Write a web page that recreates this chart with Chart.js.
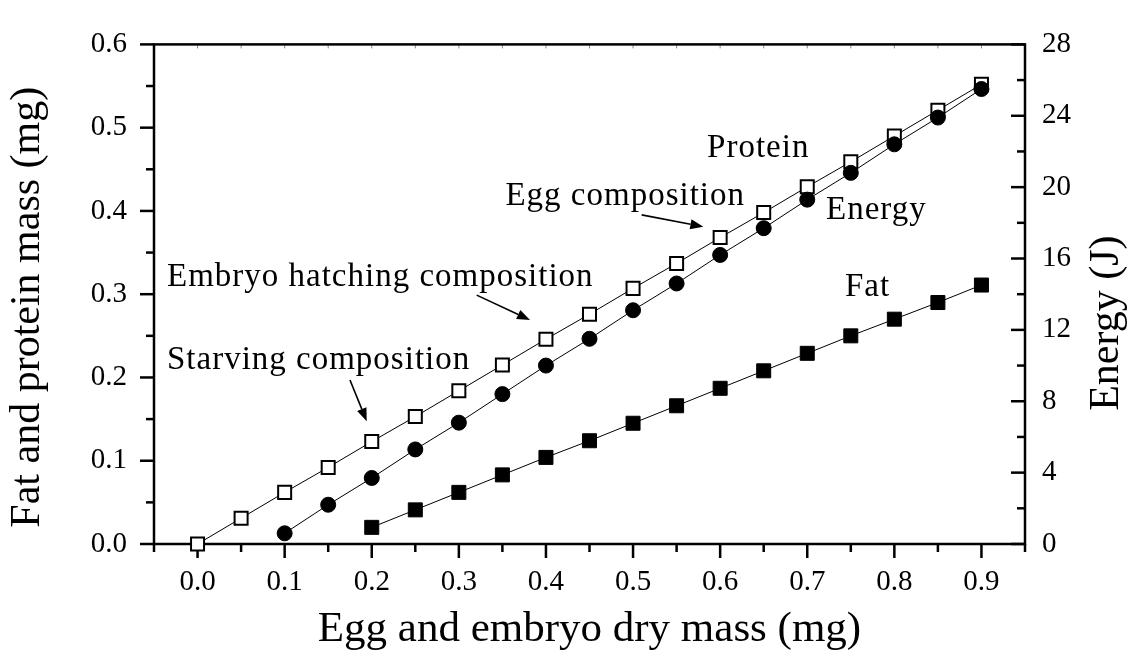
<!DOCTYPE html>
<html>
<head>
<meta charset="utf-8">
<script src="https://cdn.jsdelivr.net/npm/chart.js@4.4.1/dist/chart.umd.min.js"></script>
<style>
  html, body { margin: 0; padding: 0; background: #fff; }
  #wrap { width: 1128px; height: 653px; }
</style>
</head>
<body>
<div id="wrap"><canvas id="chart" width="1128" height="653"></canvas></div>
<script>
// x values (egg and embryo dry mass, mg)
const massProtein = [0, 0.05, 0.1, 0.15, 0.2, 0.25, 0.3, 0.35, 0.4, 0.45, 0.5, 0.55, 0.6, 0.65, 0.7, 0.75, 0.8, 0.85, 0.9];
const massEnergy = [0.1, 0.15, 0.2, 0.25, 0.3, 0.35, 0.4, 0.45, 0.5, 0.55, 0.6, 0.65, 0.7, 0.75, 0.8, 0.85, 0.9];
const massFat = [0.2, 0.25, 0.3, 0.35, 0.4, 0.45, 0.5, 0.55, 0.6, 0.65, 0.7, 0.75, 0.8, 0.85, 0.9];

// series values
const protein = [0.000, 0.031, 0.062, 0.092, 0.123, 0.153, 0.184, 0.215, 0.246, 0.276, 0.307, 0.337, 0.368, 0.398, 0.429, 0.459, 0.490, 0.521, 0.552];
const energy = [0.6, 2.2, 3.7, 5.3, 6.8, 8.4, 10.0, 11.5, 13.1, 14.6, 16.2, 17.7, 19.3, 20.8, 22.4, 23.9, 25.5]; // J, right axis
const fat = [0.020, 0.041, 0.062, 0.083, 0.104, 0.124, 0.145, 0.166, 0.187, 0.208, 0.229, 0.250, 0.270, 0.290, 0.311];

// tick labels
const xTicks = [0, 0.1, 0.2, 0.3, 0.4, 0.5, 0.6, 0.7, 0.8, 0.9];
const yTicks = [0, 0.1, 0.2, 0.3, 0.4, 0.5, 0.6];
const y2Ticks = [0, 4, 8, 12, 16, 20, 24, 28];

// text notes, placed in data units (left axis)
const notes = [
  { text: 'Protein', x: 0.585, y: 0.4645, align: 'left' },
  { text: 'Energy', x: 0.7215, y: 0.390, align: 'left' },
  { text: 'Fat', x: 0.7433, y: 0.2977, align: 'left' },
  { text: 'Egg composition', x: 0.6285, y: 0.4066, align: 'right' },
  { text: 'Embryo hatching composition', x: -0.0351, y: 0.3093, align: 'left' },
  { text: 'Starving composition', x: -0.0351, y: 0.2097, align: 'left' }
];
const arrows = [
  { x0: 0.5099, y0: 0.3953, x1: 0.5807, y1: 0.3811 },
  { x0: 0.3205, y0: 0.2989, x1: 0.3817, y1: 0.2691 },
  { x0: 0.1750, y0: 0.1969, x1: 0.1942, y1: 0.1475 }
];

const SERIF = '"Liberation Serif", "Times New Roman", Times, serif';

function pts(xs, ys) {
  return xs.map((x, i) => ({ x: x, y: ys[i] }));
}

function tickSet(scale, vals) {
  scale.ticks = vals.map(v => ({ value: v }));
}

function vertText(ctx, text, cx, cy) {
  ctx.save();
  ctx.translate(cx, cy);
  ctx.rotate(-Math.PI / 2);
  ctx.fillText(text, 0, 0);
  ctx.restore();
}

// frame and tick marks (major + minor)
const framePlugin = {
  id: 'frame',
  beforeDatasetsDraw(chart) {
    const { ctx, chartArea: a, scales } = chart;
    const x = scales.x, y = scales.y, y2 = scales.y2;
    ctx.save();
    ctx.lineCap = 'butt';

    // top small ticks
    ctx.lineWidth = 1;
    ctx.strokeStyle = '#888';
    for (let i = 0; i <= 20; i++) {
      const px = x.getPixelForValue(-0.05 + i * 0.05);
      ctx.beginPath(); ctx.moveTo(px, a.top); ctx.lineTo(px, a.top + 4); ctx.stroke();
    }

    ctx.strokeStyle = '#000';
    ctx.lineWidth = 2.5;
    // bottom ticks, outward
    for (let i = 0; i <= 20; i++) {
      const px = x.getPixelForValue(-0.05 + i * 0.05);
      const major = i % 2 === 1;
      ctx.beginPath(); ctx.moveTo(px, a.bottom); ctx.lineTo(px, a.bottom + (major ? 14 : 8)); ctx.stroke();
    }
    // left ticks, outward
    for (let i = 0; i <= 12; i++) {
      const py = y.getPixelForValue(i * 0.05);
      const major = i % 2 === 0;
      ctx.beginPath(); ctx.moveTo(a.left, py); ctx.lineTo(a.left - (major ? 14 : 8), py); ctx.stroke();
    }
    // right ticks, inward
    for (let v = 0; v <= 28; v += 2) {
      const py = y2.getPixelForValue(v);
      const major = v % 4 === 0;
      ctx.beginPath(); ctx.moveTo(a.right, py); ctx.lineTo(a.right - (major ? 14 : 8), py); ctx.stroke();
    }

    ctx.strokeRect(a.left, a.top, a.right - a.left, a.bottom - a.top);
    ctx.restore();
  },
  afterDraw(chart) {
    const { ctx, chartArea: a, scales: { x, y } } = chart;
    ctx.save();
    ctx.fillStyle = '#000';
    ctx.strokeStyle = '#000';

    // notes
    ctx.font = '33px ' + SERIF;
    ctx.letterSpacing = '1px';
    ctx.textBaseline = 'alphabetic';
    notes.forEach(n => {
      ctx.textAlign = n.align;
      ctx.fillText(n.text, x.getPixelForValue(n.x), y.getPixelForValue(n.y));
    });
    ctx.letterSpacing = '0px';

    // arrows
    arrows.forEach(r => {
      const x0 = x.getPixelForValue(r.x0), y0 = y.getPixelForValue(r.y0);
      const x1 = x.getPixelForValue(r.x1), y1 = y.getPixelForValue(r.y1);
      const ang = Math.atan2(y1 - y0, x1 - x0);
      const hl = 13, hw = 5;
      const bx = x1 - hl * Math.cos(ang), by = y1 - hl * Math.sin(ang);
      ctx.lineWidth = 1.6;
      ctx.beginPath(); ctx.moveTo(x0, y0); ctx.lineTo(bx, by); ctx.stroke();
      ctx.beginPath();
      ctx.moveTo(x1, y1);
      ctx.lineTo(bx + hw * Math.sin(ang), by - hw * Math.cos(ang));
      ctx.lineTo(bx - hw * Math.sin(ang), by + hw * Math.cos(ang));
      ctx.closePath();
      ctx.fill();
    });

    // axis titles that read bottom to top
    ctx.font = '42px ' + SERIF;
    ctx.textAlign = 'center';
    ctx.textBaseline = 'middle';
    vertText(ctx, 'Fat and protein mass (mg)', 28, (a.top + a.bottom) / 2 + 13);
    vertText(ctx, 'Energy (J)', 1107, (a.top + a.bottom) / 2 + 29);
    ctx.restore();
  }
};

const ctx = document.getElementById('chart').getContext('2d');
const chart = new Chart(ctx, {
  type: 'scatter',
  data: {
    datasets: [
      {
        label: 'Energy',
        data: pts(massEnergy, energy),
        yAxisID: 'y2',
        showLine: true,
        borderColor: '#000',
        borderWidth: 1,
        pointStyle: 'circle',
        pointRadius: 7.5,
        pointBorderWidth: 1,
        pointBackgroundColor: '#000',
        pointBorderColor: '#000',
        clip: false
      },
      {
        label: 'Protein',
        data: pts(massProtein, protein),
        yAxisID: 'y',
        showLine: true,
        borderColor: '#000',
        borderWidth: 1,
        pointStyle: 'rect',
        pointRadius: 9.2,
        pointBorderWidth: 2,
        pointBackgroundColor: '#fff',
        pointBorderColor: '#000',
        clip: false
      },
      {
        label: 'Fat',
        data: pts(massFat, fat),
        yAxisID: 'y',
        showLine: true,
        borderColor: '#000',
        borderWidth: 1,
        pointStyle: 'rect',
        pointRadius: 9.9,
        pointBorderWidth: 1,
        pointBackgroundColor: '#000',
        pointBorderColor: '#000',
        clip: false
      }
    ]
  },
  options: {
    responsive: false,
    animation: false,
    devicePixelRatio: 1,
    layout: { padding: { top: 26, left: 0, right: 0, bottom: 0 } },
    plugins: {
      legend: { display: false },
      tooltip: { enabled: false }
    },
    scales: {
      x: {
        type: 'linear',
        min: -0.05,
        max: 0.95,
        afterBuildTicks: s => tickSet(s, xTicks),
        afterFit: s => { s.height = 109; },
        grid: { display: false, drawTicks: false },
        border: { display: false },
        ticks: {
          color: '#000',
          padding: 21,
          maxRotation: 0,
          font: { family: SERIF, size: 29 },
          callback: v => v.toFixed(1)
        },
        title: {
          display: true,
          text: 'Egg and embryo dry mass (mg)',
          color: '#000',
          font: { family: SERIF, size: 43, lineHeight: 1.1 },
          padding: { top: 0, bottom: 0 }
        }
      },
      y: {
        type: 'linear',
        position: 'left',
        min: 0,
        max: 0.6,
        afterBuildTicks: s => tickSet(s, yTicks),
        afterFit: s => { s.width = 154; },
        grid: { display: false, drawTicks: false },
        border: { display: false },
        ticks: {
          color: '#000',
          padding: 27,
          font: { family: SERIF, size: 29 },
          callback: v => v.toFixed(1)
        }
      },
      y2: {
        type: 'linear',
        position: 'right',
        min: 0,
        max: 28,
        afterBuildTicks: s => tickSet(s, y2Ticks),
        afterFit: s => { s.width = 103; },
        grid: { display: false, drawTicks: false },
        border: { display: false },
        ticks: {
          color: '#000',
          padding: 17,
          font: { family: SERIF, size: 29 },
          callback: v => String(v)
        }
      }
    }
  },
  plugins: [framePlugin]
});
</script>
</body>
</html>
